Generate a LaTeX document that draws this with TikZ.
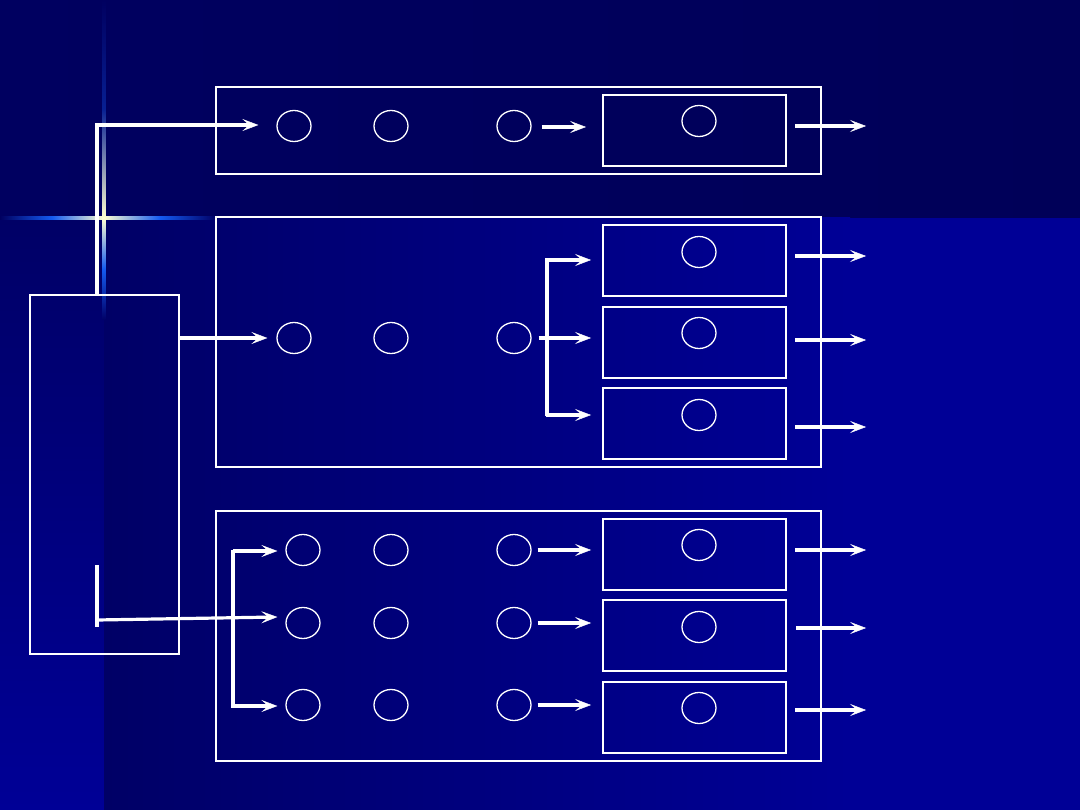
\documentclass[tikz,border=0pt]{standalone}
\usetikzlibrary{shapes.geometric,arrows.meta,calc}
\definecolor{bgdark}{RGB}{0,0,102}
\definecolor{bgtop}{RGB}{0,0,96}
\definecolor{bgtopr}{RGB}{0,0,88}
\definecolor{bgbright}{RGB}{0,0,150}
\definecolor{flare}{RGB}{255,255,210}
\definecolor{flareblue}{RGB}{20,90,240}
\tikzset{
  arr/.style={draw=white,line width=3.2pt,-{Stealth[length=16pt,width=12pt,inset=7pt,line width=0.4pt]}},
  ln/.style={draw=white,line width=3.2pt},
  circ/.style={ellipse,draw=white,line width=1.3pt,minimum width=34pt,minimum height=31pt,inner sep=0pt},
  inbox/.style={rectangle,draw=white,line width=2pt,minimum width=183pt,minimum height=71pt,inner sep=0pt},
  outbox/.style={rectangle,draw=white,line width=1.2pt,inner sep=0pt},
}
\begin{document}
\begin{tikzpicture}[x=1pt,y=-1pt]
\useasboundingbox (0,0) rectangle (1080,810);
% background
\shade[left color=bgtop,right color=bgtopr] (0,0) rectangle (1080,218);
\shade[top color=bgdark,bottom color=bgbright] (0,218) rectangle (104,810);
\shade[left color=bgdark,right color=bgbright] (104,218) rectangle (850,810);
\fill[bgbright] (849.5,218) rectangle (1080,810);
% lens flare
\shade[left color=bgtop,right color=flare,middle color=flareblue] (0,216.5) rectangle (104,219.5);
\shade[left color=flare,right color=bgdark,middle color=flareblue] (104,216.5) rectangle (216,219.5);
\shade[top color=bgtop,bottom color=flare,middle color=flareblue!35!bgtop] (102.5,0) rectangle (105.5,218);
\shade[top color=flare,bottom color=bgdark,middle color=flareblue] (102.5,218) rectangle (105.5,320);
% outer boxes
\node[outbox,minimum width=605pt,minimum height=87pt] (top) at (518.5,130.5) {};
\node[outbox,minimum width=605pt,minimum height=250pt] (mid) at (518.5,342) {};
\node[outbox,minimum width=605pt,minimum height=250pt] (bot) at (518.5,636) {};
\node[outbox,minimum width=149pt,minimum height=359pt] (left) at (104.5,474.5) {};
% inner boxes
\node[inbox] (b1) at (694.5,130.5) {};
\node[inbox] (b21) at (694.5,261) {};
\node[inbox] (b22) at (694.5,342.5) {};
\node[inbox] (b23) at (694.5,423.5) {};
\node[inbox] (b31) at (694.5,554.5) {};
\node[inbox] (b32) at (694.5,635.5) {};
\node[inbox] (b33) at (694.5,717.5) {};
% circles in inner boxes
\node[circ] (i1) at (699,121) {};
\node[circ] (i21) at (699,252) {};
\node[circ] (i22) at (699,333) {};
\node[circ] (i23) at (699,415) {};
\node[circ] (i31) at (699,545) {};
\node[circ] (i32) at (699,627) {};
\node[circ] (i33) at (699,708) {};
% circles in rows
\node[circ] (c11) at (294,126) {};
\node[circ] (c12) at (391,126) {};
\node[circ] (c13) at (514,126) {};
\node[circ] (c21) at (294,338) {};
\node[circ] (c22) at (391,338) {};
\node[circ] (c23) at (514,338) {};
\node[circ] (c31) at (303,550) {};
\node[circ] (c32) at (391,550) {};
\node[circ] (c33) at (514,550) {};
\node[circ] (c41) at (303,623) {};
\node[circ] (c42) at (391,623) {};
\node[circ] (c43) at (514,623) {};
\node[circ] (c51) at (303,705) {};
\node[circ] (c52) at (391,705) {};
\node[circ] (c53) at (514,705) {};
% free ends
\coordinate (o1) at (866,126);
\coordinate (o21) at (866,256);
\coordinate (o22) at (866,340);
\coordinate (o23) at (866,427);
\coordinate (o31) at (866,550);
\coordinate (o32) at (866,628);
\coordinate (o33) at (866,710);
% top feed
\draw[arr] (left.north -| 97,0) |- ($(c11.west)+(-18,-1)$);
% middle feed
\draw[arr] (left.east |- c21) -- ($(c21.west)+(-9,0)$);
% bottom feed
\draw[ln] (97,565) -- (97,627);
\draw[arr] (97,620) -- ($(c41.west)+(-8,-6)$);
\draw[ln] (233,549.5) -- (233,707.5);
\draw[arr] (233,551) -- ($(c31.west)+(-8,1)$);
\draw[arr] (233,706) -- ($(c51.west)+(-8,1)$);
% row to box arrows
\draw[arr] ($(c13.east)+(10,1)$) -- ($(b1.west|-c13)+(-16,1)$);
\draw[arr] ($(c33.east)+(6,0)$) -- ($(b31.west|-c33)+(-11,0)$);
\draw[arr] ($(c43.east)+(6,0)$) -- ($(b32.west|-c43)+(-11,0)$);
\draw[arr] ($(c53.east)+(6,0)$) -- ($(b33.west|-c53)+(-11,0)$);
% middle fork
\draw[ln] (547,258.5) -- (547,416.5);
\draw[arr] ($(c23.east)+(7,0)$) -- ($(b22.west|-c23)+(-11,0)$);
\draw[arr] (545.5,260) -- ($(b21.west)+(-11,-1)$);
\draw[arr] (545.5,415) -- ($(b23.west)+(-11,-8.5)$);
% outputs
\draw[arr] ($(b1.east)+(8,-4.5)$) -- (o1);
\draw[arr] ($(b21.east)+(8,-5)$) -- (o21);
\draw[arr] ($(b22.east)+(8,-2.5)$) -- (o22);
\draw[arr] ($(b23.east)+(8,3.5)$) -- (o23);
\draw[arr] ($(b31.east)+(8,-4.5)$) -- (o31);
\draw[arr] ($(b32.east)+(9,-7.5)$) -- (o32);
\draw[arr] ($(b33.east)+(8,-7.5)$) -- (o33);
\end{tikzpicture}
\end{document}
